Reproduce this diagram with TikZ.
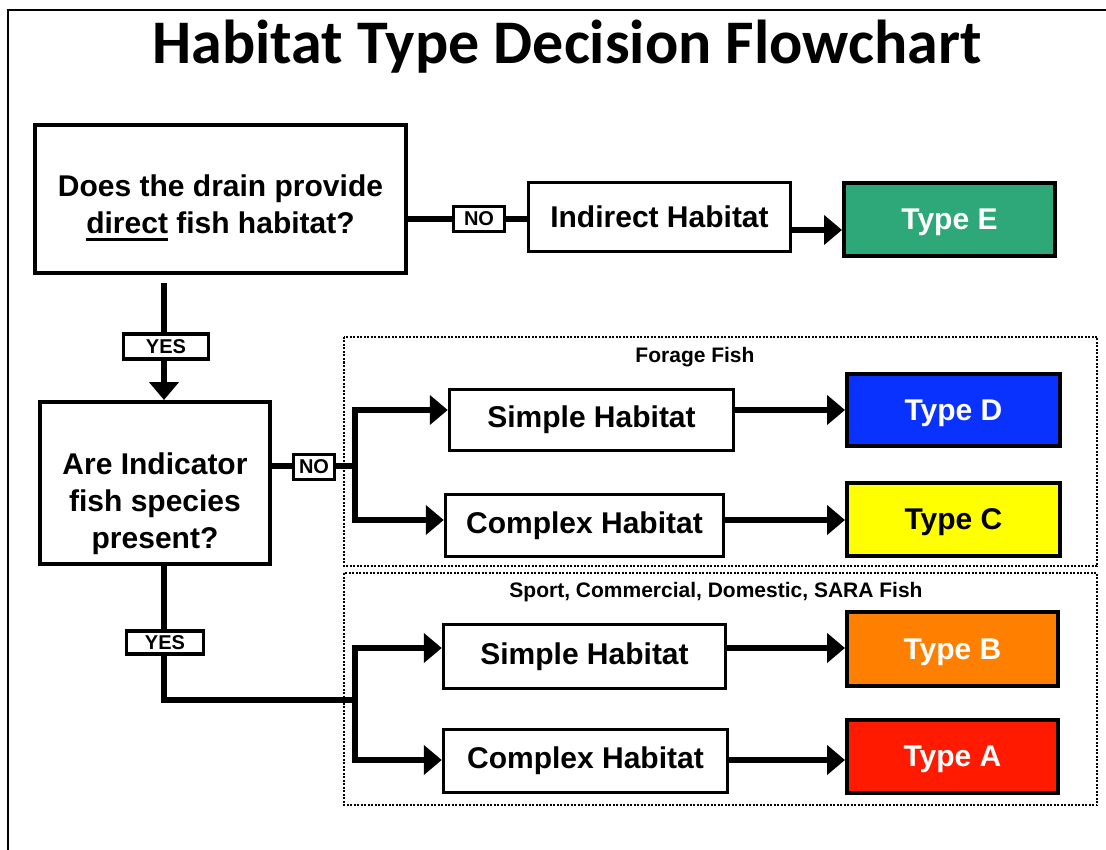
\documentclass[tikz,border=0pt]{standalone}
\usepackage{fontspec}
\setmainfont{Liberation Sans}
\newfontfamily\titlefont{Carlito}
\usetikzlibrary{arrows.meta}
\newcommand\thickul[1]{\setbox0=\hbox{#1}\rlap{\rule[-8pt]{\wd0}{3.5pt}}#1}
\definecolor{typeE}{RGB}{46,168,120}
\definecolor{typeD}{RGB}{10,50,255}
\definecolor{typeC}{RGB}{255,255,0}
\definecolor{typeB}{RGB}{255,128,0}
\definecolor{typeA}{RGB}{255,26,0}
\begin{document}
\begin{tikzpicture}[x=1pt,y=-1pt,
  box/.style={draw, line width=3.5pt, inner sep=0pt, align=center,
    font=\bfseries\fontsize{30}{36}\selectfont},
  qbox/.style={draw, line width=4pt, inner sep=0pt},
  qtext/.style={align=center, inner sep=0pt, font=\bfseries\fontsize{30}{37}\selectfont},
  typebox/.style={box, line width=4pt, text=white, text depth=0pt},
  tag/.style={draw, line width=3.5pt, inner sep=0pt, fill=white,
    font=\bfseries\fontsize{20}{20}\selectfont},
  flow/.style={line width=6pt},
  arr/.style={flow, -{Triangle[length=18pt,width=29pt]}},
  grp/.style={draw, line width=2pt, dash pattern=on 2pt off 1.5pt},
  grplabel/.style={font=\bfseries\fontsize{21}{21}\selectfont}]
\useasboundingbox (0,0) rectangle (1106,850);
\draw[line width=2pt] (8,850) -- (8,10) -- (1106,10);

\node[font=\titlefont\bfseries\fontsize{62}{62}\selectfont] (title) at (567,47) {Habitat Type Decision Flowchart};

% group frames
\draw[grp] (344,337) rectangle (1097,566);
\draw[grp] (344,573) rectangle (1097,805);
\node[grplabel] (lblF) at (695,357) {Forage Fish};
\node[grplabel] (lblS) at (716,592) {Sport, Commercial, Domestic, SARA Fish};

% nodes
\node[qbox, minimum width=371pt, minimum height=148pt] (Q1) at (220.5,199) {};
\node[qtext] (Q1t) at ([yshift=-9pt]Q1.center) {Does the drain provide\\\thickul{direct} fish habitat?};
\node[box, minimum width=262pt, minimum height=69pt] (Ind) at (659.5,217) {Indirect Habitat};
\node[typebox, fill=typeE, minimum width=211pt, minimum height=73pt] (TE) at (949.5,219.5) {Type E};
\node[tag, minimum width=51pt, minimum height=25pt] (NO1) at (479,219) {NO};
\node[tag, minimum width=85pt, minimum height=25pt] (YES1) at (166,346.5) {YES};
\node[qbox, minimum width=230pt, minimum height=162pt] (Q2) at (155,483) {};
\node[qtext] (Q2t) at ([yshift=-21pt]Q2.center) {Are Indicator\\fish species\\present?};
\node[tag, minimum width=41pt, minimum height=25pt] (NO2) at (314,467) {NO};
\node[box, minimum width=284pt, minimum height=61pt] (SD) at (591.5,420) {Simple Habitat};
\node[box, minimum width=278pt, minimum height=62pt] (CC) at (584.5,525.5) {Complex Habitat};
\node[typebox, fill=typeD, minimum width=213pt, minimum height=72pt] (TD) at (953.5,410) {Type D};
\node[typebox, fill=typeC, text=black, minimum width=213pt, minimum height=73pt] (TC) at (953.5,519.5) {Type C};
\node[tag, minimum width=77pt, minimum height=23pt] (YES2) at (165,642.5) {YES};
\node[box, minimum width=282pt, minimum height=64pt] (SB) at (584.5,656.5) {Simple Habitat};
\node[typebox, fill=typeB, minimum width=211pt, minimum height=74pt] (TB) at (952.5,649) {Type B};
\node[box, minimum width=284pt, minimum height=63pt] (CA) at (585.5,761) {Complex Habitat};
\node[typebox, fill=typeA, minimum width=211pt, minimum height=73pt] (TA) at (952.5,756.5) {Type A};

% helper coordinates
\coordinate (q1b) at (164,283);
\coordinate (eA) at (0,230);
\coordinate (br1) at (355,466);
\coordinate (br1t) at (355,410);
\coordinate (br1b) at (355,520);
\coordinate (br2) at (355,700);
\coordinate (br2t) at (355,648);
\coordinate (br2b) at (355,760);

% connectors
\draw[flow] (Q1.east |- NO1.west) -- (NO1.west);
\draw[flow] (NO1.east) -- (NO1.east -| Ind.west);
\draw[arr] (Ind.east |- eA) -- (TE.west |- eA);
\draw[flow] (q1b) -- (q1b |- YES1.north);
\draw[arr] (q1b |- YES1.south) -- (q1b |- Q2.north);
\draw[flow] (Q2.east |- br1) -- (NO2.west |- br1);
\draw[flow] (NO2.east |- br1) -- (br1);
\draw[arr] (br1) -- (br1t) -- (br1t -| SD.west);
\draw[arr] (br1) -- (br1b) -- (br1b -| CC.west);
\draw[arr] (SD.east |- br1t) -- (TD.west |- br1t);
\draw[arr] (CC.east |- br1b) -- (TC.west |- br1b);
\draw[flow] (Q2.south -| q1b) -- (q1b |- YES2.north);
\draw[flow] (q1b |- YES2.south) -- (q1b |- br2) -- (br2);
\draw[arr] (br2) -- (br2t) -- (br2t -| SB.west);
\draw[arr] (br2) -- (br2b) -- (br2b -| CA.west);
\draw[arr] (SB.east |- br2t) -- (TB.west |- br2t);
\draw[arr] (CA.east |- br2b) -- (TA.west |- br2b);
\end{tikzpicture}
\end{document}
